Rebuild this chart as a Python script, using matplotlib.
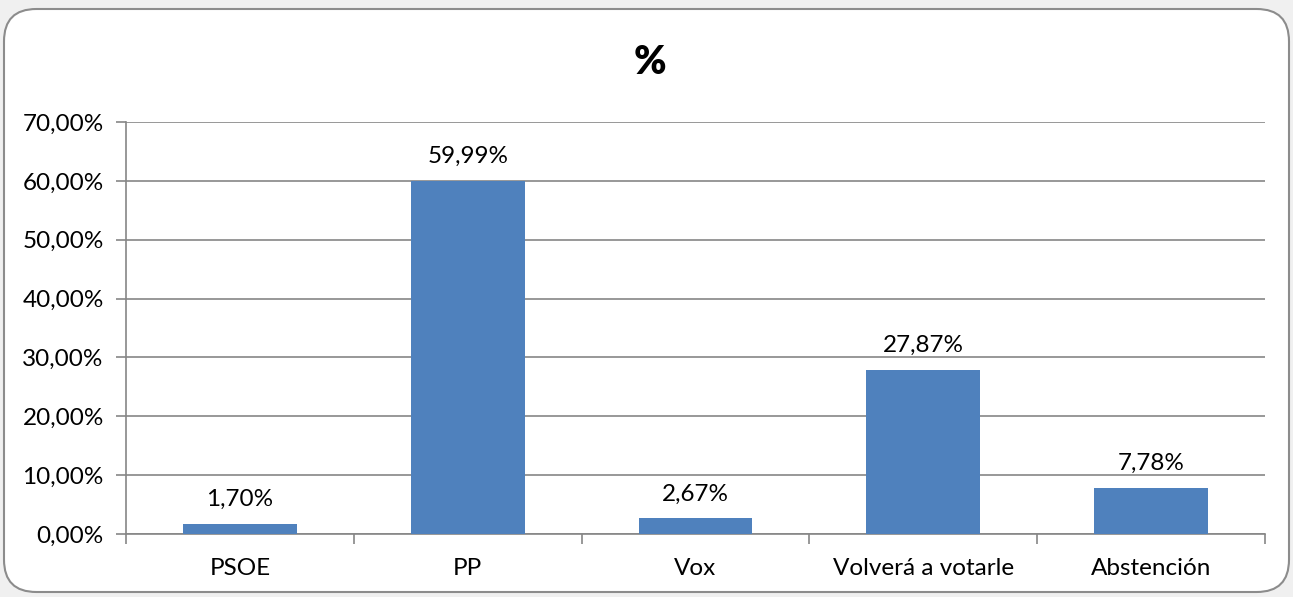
import matplotlib.pyplot as plt
from matplotlib.patches import FancyBboxPatch
from matplotlib.ticker import FuncFormatter, FixedLocator
import numpy as np

categories = ["PSOE", "PP", "Vox", "Volverá a votarle", "Abstención"]
values = [1.70, 59.99, 2.67, 27.87, 7.78]
title = "%"

plt.rcParams['font.family'] = ['Lato', 'DejaVu Sans']
grey = '#868686'
blue = '#4F81BD'
fs = 17.5

fig = plt.figure(figsize=(12.93, 5.97), dpi=100)
fig.patch.set_facecolor('#f0f0f0')

# rounded chart frame
frame = FancyBboxPatch((4 / 1293, 5 / 597), 1285 / 1293, 583 / 597,
                       boxstyle="round,pad=0,rounding_size=0.025",
                       transform=fig.transFigure, facecolor='white',
                       edgecolor='#8c8c8c', linewidth=1.5,
                       mutation_aspect=1293 / 597, zorder=-5)
fig.patches.append(frame)

ax = fig.add_axes([126 / 1293, 1 - 534 / 597, 1139 / 1293, 412 / 597])
ax.set_zorder(2)
ax.set_facecolor('none')

x = np.arange(len(categories))
ax.bar(x, values, width=0.5, color=blue, zorder=3)

for xi, v in zip(x, values):
    ax.annotate(f"{v:.2f}%".replace('.', ','), (xi, v), xytext=(0, 10),
                textcoords='offset points', ha='center', va='bottom',
                fontsize=fs)

ax.set_xlim(-0.5, len(categories) - 0.5)
ax.set_ylim(0, 70)
ax.set_yticks(np.arange(0, 71, 10))
ax.yaxis.set_major_formatter(FuncFormatter(lambda v, p: f"{v:.2f}%".replace('.', ',')))
ax.yaxis.grid(True, color=grey, linewidth=1.2, zorder=0)

ax.set_xticks(x)
ax.set_xticklabels(categories)
ax.xaxis.set_minor_locator(FixedLocator(np.arange(-0.5, len(categories), 1)))
ax.tick_params(axis='x', which='major', length=0, pad=17, labelsize=fs)
ax.tick_params(axis='x', which='minor', length=7, width=1.2, color=grey)
ax.tick_params(axis='y', length=7, width=1.2, color=grey, labelsize=fs, pad=9)

for s in ['top', 'right']:
    ax.spines[s].set_visible(False)
for s in ['left', 'bottom']:
    ax.spines[s].set_color(grey)
    ax.spines[s].set_linewidth(1.2)

fig.text(650 / 1293, 1 - 62 / 597, title, ha='center', va='center',
         fontsize=28, fontweight='heavy', zorder=5)

fig.savefig('out.png', dpi=100, facecolor=fig.get_facecolor())
